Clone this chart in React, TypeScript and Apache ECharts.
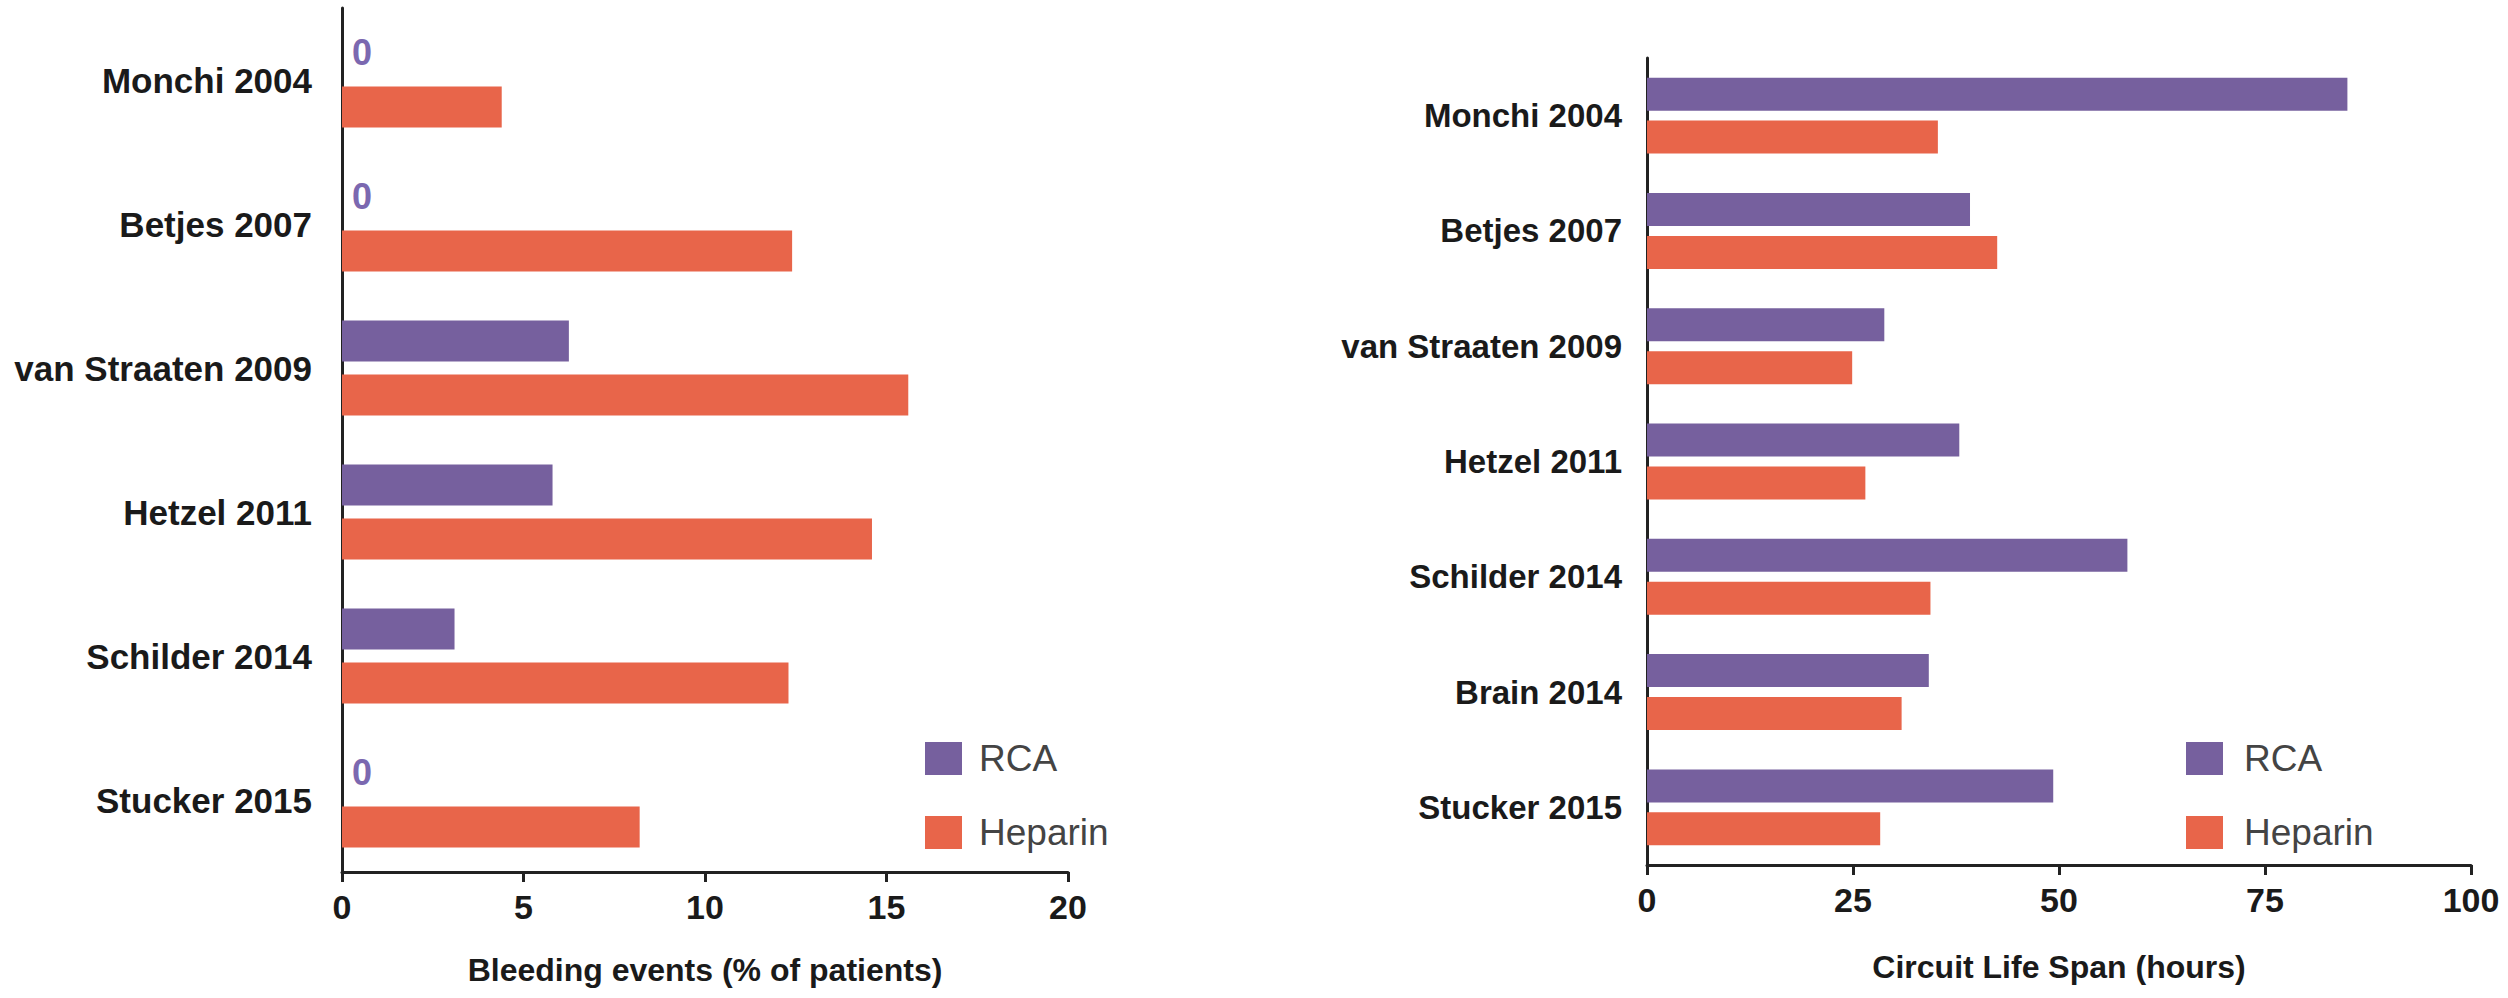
import React, { useEffect, useRef } from "react";
import * as echarts from "echarts";

const leftCategories = ["Monchi 2004", "Betjes 2007", "van Straaten 2009", "Hetzel 2011", "Schilder 2014", "Stucker 2015"];
const leftRCA = [0, 0, 6.25, 5.8, 3.1, 0];
const leftHeparin = [4.4, 12.4, 15.6, 14.6, 12.3, 8.2];

const rightCategories = ["Monchi 2004", "Betjes 2007", "van Straaten 2009", "Hetzel 2011", "Schilder 2014", "Brain 2014", "Stucker 2015"];
const rightRCA = [85, 39.2, 28.8, 37.9, 58.3, 34.2, 49.3];
const rightHeparin = [35.3, 42.5, 24.9, 26.5, 34.4, 30.9, 28.3];

const leftTitle = "Bleeding events (% of patients)";
const rightTitle = "Circuit Life Span (hours)";
const seriesNames = ["RCA", "Heparin"];

const PURPLE = "#76609e";
const ORANGE = "#e8654a";
const FONT = "Liberation Sans, Arial, sans-serif";
const AXIS = "#222222";

export default function App() {
  const ref = useRef<HTMLDivElement>(null);
  useEffect(() => {
    if (!ref.current) return;
    const chart = echarts.init(ref.current, undefined, { renderer: "svg" });
    const axisLine = { show: true, lineStyle: { color: AXIS, width: 3 } };
    const xAxisCommon = (max: number, interval: number, name: string, gap: number, idx: number) => ({
      type: "value",
      gridIndex: idx,
      min: 0,
      max,
      interval,
      name,
      nameLocation: "middle",
      nameGap: gap,
      nameTextStyle: { fontFamily: FONT, fontWeight: "bold", fontSize: 32, color: "#1a1a1a" },
      axisLine,
      axisTick: { show: true, length: 10, lineStyle: { color: AXIS, width: 3 } },
      splitLine: { show: false },
      axisLabel: { fontFamily: FONT, fontWeight: "bold", fontSize: 34, color: "#1a1a1a", margin: 18 },
    });
    const yAxisCommon = (data: string[], idx: number, size: number, margin: number) => ({
      type: "category",
      gridIndex: idx,
      data,
      inverse: true,
      axisLine,
      axisTick: { show: false },
      axisLabel: { fontFamily: FONT, fontWeight: "bold", fontSize: size, color: "#1a1a1a", margin },
    });
    const zeroLabel = {
      show: true,
      position: "right",
      distance: 10,
      fontFamily: FONT,
      fontWeight: "bold",
      fontSize: 36,
      color: "#7b68b0",
      formatter: (p: any) => (p.value === 0 ? "0" : ""),
    };
    const legendCommon = (left: number, pad: number) => ({
      data: seriesNames,
      orient: "vertical",
      left,
      top: 735,
      itemWidth: 37,
      itemHeight: 33,
      itemGap: 37,
      icon: "rect",
      selectedMode: false,
      textStyle: { fontFamily: FONT, fontSize: 37, color: "#444444", padding: [0, 0, 0, pad] },
    });
    chart.setOption({
      animation: false,
      backgroundColor: "#ffffff",
      grid: [
        { left: 342, top: 8, width: 726, height: 864 },
        { left: 1647, top: 58, width: 824, height: 807 },
      ],
      legend: [legendCommon(920, 12), legendCommon(2181, 16)],
      xAxis: [xAxisCommon(20, 5, leftTitle, 82, 0), xAxisCommon(100, 25, rightTitle, 86, 1)],
      yAxis: [yAxisCommon(leftCategories, 0, 35, 30), yAxisCommon(rightCategories, 1, 33, 25)],
      series: [
        { name: "RCA", type: "bar", xAxisIndex: 0, yAxisIndex: 0, data: leftRCA, barWidth: 41, barGap: "32%", itemStyle: { color: PURPLE }, label: zeroLabel },
        { name: "Heparin", type: "bar", xAxisIndex: 0, yAxisIndex: 0, data: leftHeparin, barWidth: 41, barGap: "32%", itemStyle: { color: ORANGE } },
        { name: "RCA", type: "bar", xAxisIndex: 1, yAxisIndex: 1, data: rightRCA, barWidth: 33, barGap: "30%", itemStyle: { color: PURPLE } },
        { name: "Heparin", type: "bar", xAxisIndex: 1, yAxisIndex: 1, data: rightHeparin, barWidth: 33, barGap: "30%", itemStyle: { color: ORANGE } },
      ],
    });
    return () => chart.dispose();
  }, []);
  return <div ref={ref} style={{ position: "fixed", left: 0, top: 0, width: 2508, height: 998 }} />;
}
